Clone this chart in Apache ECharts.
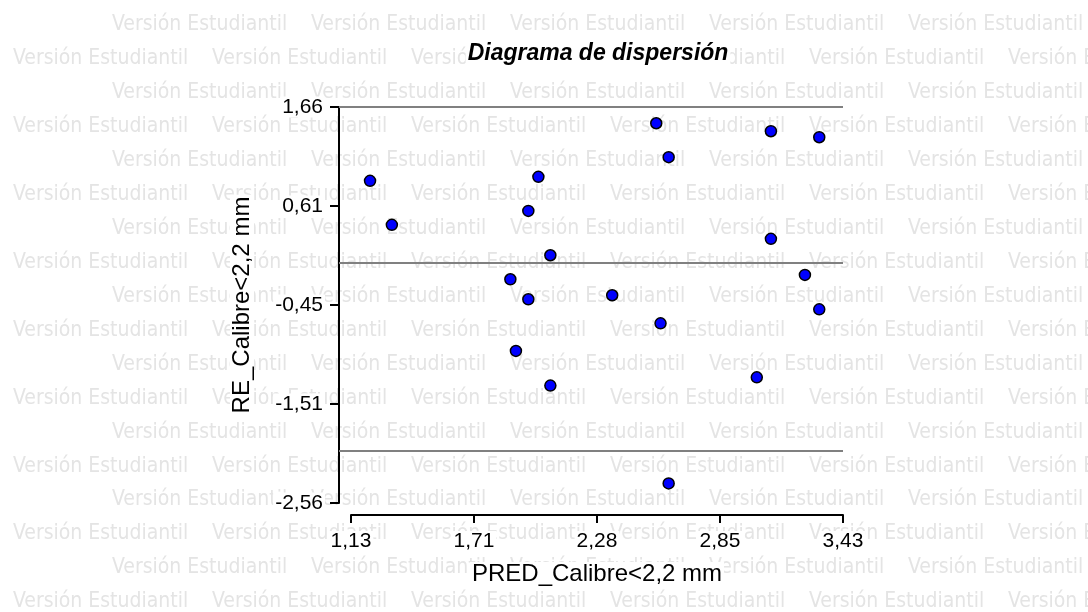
<!DOCTYPE html>
<html><head><meta charset="utf-8">
<script src="https://cdn.jsdelivr.net/npm/echarts@6/dist/echarts.min.js"></script>
<style>html,body{margin:0;padding:0;background:#fff}#c{width:1088px;height:612px}</style>
</head><body><div id="c"></div>
<script>
// ---- data ----
const predValues = [1.219, 1.321, 2.006, 1.959, 2.062, 1.875, 2.557, 2.615, 3.093, 3.319, 3.093, 3.252, 1.959, 1.901, 2.062, 2.351, 2.577, 3.319, 3.027, 2.615];
const reValues   = [0.873, 0.404, 0.916, 0.553, 0.080, -0.176, 1.487, 1.125, 1.402, 1.338, 0.255, -0.129, -0.389, -0.939, -1.309, -0.346, -0.645, -0.496, -1.221, -2.351];
const xTicks = [1.13, 1.705, 2.28, 2.855, 3.43];
const xTickLabels = ['1,13', '1,71', '2,28', '2,85', '3,43'];
const yTicks = [-2.56, -1.505, -0.45, 0.605, 1.66];
const yTickLabels = ['-2,56', '-1,51', '-0,45', '0,61', '1,66'];
const refLines = [1.66, 0, -2.0];
const titleText = 'Diagrama de dispersión';
const xName = 'PRED_Calibre<2,2 mm';
const yName = 'RE_Calibre<2,2 mm';
const watermarkText = 'Versión Estudiantil';

// ---- chart ----
const xMin = xTicks[0], xMax = xTicks[xTicks.length - 1];
const yMin = yTicks[0], yMax = yTicks[yTicks.length - 1];
const gridL = 351, gridR = 245, gridT = 107, gridB = 109;
const axisOffset = 12;

function lbl(ticks, labels) {
  return v => { const i = ticks.findIndex(t => Math.abs(t - v) < 1e-6); return i >= 0 ? labels[i] : ''; };
}

const wm = [];
for (let k = 0; k < 18; k++) {
  const y = 25 + k * 33.93;
  const x0 = (k % 2 === 0) ? 112 : 13;
  for (let x = x0; x < 1088; x += 199) {
    wm.push({ type: 'text', x: x, y: y, z: -10, silent: true,
      style: { text: watermarkText, fill: '#e4e4e4', fontSize: 21,
        fontFamily: '"DejaVu Sans Condensed", "Liberation Sans"', verticalAlign: 'middle', align: 'left' } });
  }
}

const chart = echarts.init(document.getElementById('c'), null, { renderer: 'canvas' });
const font = '"Liberation Sans", Arial, sans-serif';
chart.setOption({
  animation: false,
  backgroundColor: '#fff',
  graphic: wm,
  title: {
    text: titleText, left: 596, top: 42, textAlign: 'center', padding: [0, 2],
    backgroundColor: '#fff',
    textStyle: { fontFamily: font, fontSize: 23, fontWeight: 'bold', fontStyle: 'italic', color: '#000' }
  },
  grid: { left: gridL, right: gridR, top: gridT, bottom: gridB },
  xAxis: {
    type: 'value', min: xMin, max: xMax, position: 'bottom', offset: axisOffset,
    name: xName, nameLocation: 'middle', nameGap: 47,
    nameTextStyle: { fontFamily: font, fontSize: 24, color: '#000', backgroundColor: '#fff', padding: [0, 2] },
    axisLine: { show: true, onZero: false, lineStyle: { color: '#000', width: 2 } },
    axisTick: { show: true, length: 8, lineStyle: { color: '#000', width: 2 }, customValues: xTicks },
    axisLabel: { customValues: xTicks, formatter: lbl(xTicks, xTickLabels), margin: 16,
      fontFamily: font, fontSize: 21, color: '#000', backgroundColor: '#fff', padding: [0, 2] },
    splitLine: { show: false }
  },
  yAxis: {
    type: 'value', min: yMin, max: yMax, position: 'left', offset: axisOffset,
    name: yName, nameLocation: 'middle', nameGap: 85,
    nameTextStyle: { fontFamily: font, fontSize: 24, color: '#000', backgroundColor: '#fff', padding: [0, 2] },
    axisLine: { show: true, onZero: false, lineStyle: { color: '#000', width: 2 } },
    axisTick: { show: true, length: 9, lineStyle: { color: '#000', width: 2 }, customValues: yTicks },
    axisLabel: { customValues: yTicks, formatter: lbl(yTicks, yTickLabels), margin: 14,
      fontFamily: font, fontSize: 21, color: '#000', backgroundColor: '#fff', padding: [0, 2] },
    splitLine: { show: false }
  },
  series: [{
    type: 'scatter', clip: false, z: 3,
    data: predValues.map((x, i) => [x, reValues[i]]),
    symbol: 'circle', symbolSize: 11,
    itemStyle: { color: '#0000ff', borderColor: '#000', borderWidth: 1.5, opacity: 1 }
  }]
});

// reference lines: start at the (offset) y-axis line, end at x max; positions from the library's scales
const refData = refLines.map(v => {
  const a = chart.convertToPixel({ gridIndex: 0 }, [xMin, v]);
  const b = chart.convertToPixel({ gridIndex: 0 }, [xMax, v]);
  return [{ x: a[0] - axisOffset, y: a[1] }, { x: b[0], y: b[1] }];
});
chart.setOption({
  series: [{
    markLine: {
      silent: true, symbol: 'none', label: { show: false }, z: 1,
      lineStyle: { color: '#808080', width: 2, type: 'solid' },
      data: refData
    }
  }]
});
</script></body></html>
